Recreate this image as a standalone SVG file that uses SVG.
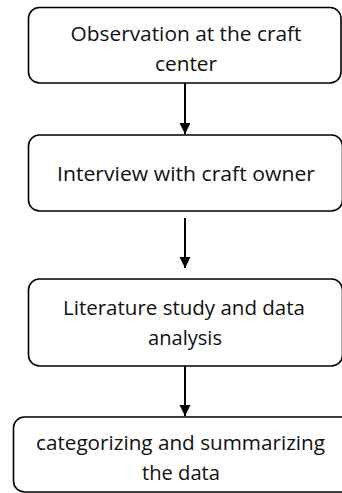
<svg xmlns="http://www.w3.org/2000/svg" width="342" height="493" viewBox="0 0 342 493">
<defs>
<marker id="ah" markerWidth="12" markerHeight="12" refX="11" refY="6" orient="auto" markerUnits="userSpaceOnUse">
<path d="M0,0.5 L11,6 L0,11.5 Z" fill="#000"/>
</marker>
<style>
.box{fill:#fff;stroke:#000;stroke-width:1.6}
.t{font-family:"Open Sans","Liberation Sans",sans-serif;font-size:20px;fill:#111;text-anchor:middle}
.c{stroke:#000;stroke-width:2;fill:none}
</style>
</defs>
<rect width="342" height="493" fill="#fff"/>
<g id="node1">
<rect class="box" x="28.5" y="7.5" width="312.5" height="75.5" rx="11"/>
<text class="t" x="186" y="41" textLength="231" lengthAdjust="spacingAndGlyphs">Observation at the craft</text>
<text class="t" x="186" y="71" textLength="62" lengthAdjust="spacingAndGlyphs">center</text>
</g>
<g id="node2">
<rect class="box" x="28.5" y="135" width="314" height="76" rx="11"/>
<text class="t" x="186" y="181" textLength="258" lengthAdjust="spacingAndGlyphs">Interview with craft owner</text>
</g>
<g id="node3">
<rect class="box" x="28.5" y="279" width="314" height="87" rx="11"/>
<text class="t" x="184" y="315" textLength="242" lengthAdjust="spacingAndGlyphs">Literature study and data</text>
<text class="t" x="185" y="345" textLength="74" lengthAdjust="spacingAndGlyphs">analysis</text>
</g>
<g id="node4">
<rect class="box" x="13.5" y="417" width="340" height="75" rx="11"/>
<text class="t" x="180.5" y="450" textLength="289" lengthAdjust="spacingAndGlyphs">categorizing and summarizing</text>
<text class="t" x="181" y="480" textLength="78" lengthAdjust="spacingAndGlyphs">the data</text>
</g>
<g id="connectors">
<line class="c" x1="185" y1="83" x2="185" y2="134" marker-end="url(#ah)"/>
<line class="c" x1="185" y1="218" x2="185" y2="268" marker-end="url(#ah)"/>
<line class="c" x1="185" y1="366" x2="185" y2="416" marker-end="url(#ah)"/>
</g>
</svg>
